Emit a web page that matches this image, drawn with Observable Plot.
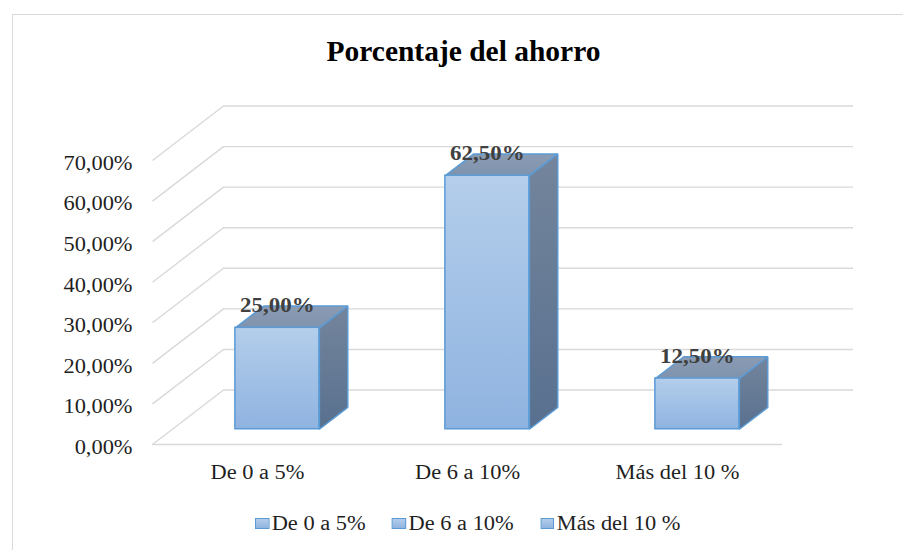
<!DOCTYPE html>
<html><head><meta charset="utf-8">
<script src="https://cdn.jsdelivr.net/npm/d3@7"></script>
<script src="https://cdn.jsdelivr.net/npm/@observablehq/plot@0.6"></script>
<style>
html,body{margin:0;padding:0;background:#fff;}
#wrap{position:relative;width:903px;height:550px;overflow:hidden;font-family:"Liberation Serif","Times New Roman",serif;}
#border{position:absolute;left:12px;top:14px;width:1000px;height:1000px;border-left:1.5px solid #d9d9d9;border-top:1.5px solid #d9d9d9;}
#chart{position:absolute;left:0;top:0;}
#legend{position:absolute;left:255px;top:511px;display:flex;align-items:center;font-size:20px;color:#1f1f1f;line-height:24px;transform:scaleX(1.12);transform-origin:0 50%;white-space:nowrap;}
.item{display:flex;align-items:center;margin-right:23.5px;}
.sw{width:12.5px;height:11px;background:linear-gradient(#b3cdea,#90b4e0);border:1px solid #5b9bd5;margin-right:2.4px;box-sizing:border-box;}
</style>
</head><body><div id="wrap"><div id="border"></div><div id="chart"></div><div id="legend"></div></div>
<script>
const title = "Porcentaje del ahorro";
const categories = ["De 0 a 5%", "De 6 a 10%", "Más del 10 %"];
const values = [0.25, 0.625, 0.125];
const valueLabels = ["25,00%", "62,50%", "12,50%"];
const yTicks = [0, 0.1, 0.2, 0.3, 0.4, 0.5, 0.6, 0.7];
const yTickLabels = ["0,00%", "10,00%", "20,00%", "30,00%", "40,00%", "50,00%", "60,00%", "70,00%"];

// oblique 3D geometry (in scale units)
const DEPTH_X = 0.338, DEPTH_Y = 0.1343;
const HALF = 0.2, FRONT = 0.28, BACK = 0.68;
const P = (x, y, d) => ({x: x + d * DEPTH_X, y: y + d * DEPTH_Y});

const bars = values.map((v, i) => ({i, v, label: valueLabels[i]}));
const fronts = bars.map(b => ({
  x1: b.i - HALF + FRONT * DEPTH_X, x2: b.i + HALF + FRONT * DEPTH_X,
  y1: FRONT * DEPTH_Y, y2: b.v + FRONT * DEPTH_Y
}));
const tops = bars.flatMap(b => [
  P(b.i - HALF, b.v, FRONT), P(b.i + HALF, b.v, FRONT), P(b.i + HALF, b.v, BACK),
  P(b.i - HALF, b.v, BACK), P(b.i - HALF, b.v, FRONT)
].map(p => ({...p, bar: b.i})));
const sides = bars.flatMap(b => [
  P(b.i + HALF, b.v, FRONT), P(b.i + HALF, b.v, BACK), P(b.i + HALF, 0, BACK),
  P(b.i + HALF, 0, FRONT), P(b.i + HALF, b.v, FRONT)
].map(p => ({...p, bar: b.i})));
const labels = bars.map(b => ({...P(b.i, b.v, FRONT), label: b.label}));
const diagonals = yTicks.map(t => ({x1: -0.5, y1: t, x2: -0.5 + DEPTH_X, y2: t + DEPTH_Y}));

const grid = "#d9d9d9";
const svg = Plot.plot({
  width: 903, height: 550,
  marginLeft: 152, marginRight: 121, marginTop: 160, marginBottom: 106,
  x: {domain: [-0.5, 2.5]},
  y: {domain: [0, 0.7]},
  style: {fontFamily: '"Liberation Serif","Times New Roman",serif', color: "#1f1f1f", background: "transparent", overflow: "visible"},
  marks: [
    Plot.ruleY(yTicks, {y: d => d + DEPTH_Y, x1: -0.5 + DEPTH_X, x2: 2.5 + DEPTH_X, stroke: grid, strokeWidth: 1.4}),
    Plot.link(diagonals, {x1: "x1", y1: "y1", x2: "x2", y2: "y2", stroke: grid, strokeWidth: 1.4}),
    Plot.ruleY([0], {x1: -0.5, x2: 2.5, stroke: grid, strokeWidth: 1.4}),
    Plot.line(sides, {x: "x", y: "y", z: "bar", fill: "url(#gSide)", stroke: "#5b9bd5", strokeWidth: 1.5, strokeLinejoin: "miter"}),
    Plot.line(tops, {x: "x", y: "y", z: "bar", fill: "url(#gTop)", stroke: "#5b9bd5", strokeWidth: 1.5, strokeLinejoin: "miter"}),
    Plot.rect(fronts, {x1: "x1", x2: "x2", y1: "y1", y2: "y2", fill: "url(#gFront)", stroke: "#5b9bd5", strokeWidth: 1.5}),
    Plot.text(labels, {x: "x", y: "y", text: "label", dy: -16, lineAnchor: "bottom", fontSize: 20.5, fontWeight: "bold", fill: "#404040"}),
    Plot.axisY({ticks: yTicks, tickFormat: d => yTickLabels[yTicks.indexOf(d)], tickSize: 0, tickPadding: 20, fontSize: 20, dy: 3, label: null}),
    Plot.axisX({ticks: [0, 1, 2], tickFormat: d => categories[d], tickSize: 0, tickPadding: 20, fontSize: 20, label: null}),
    Plot.text([title], {frameAnchor: "top", dy: -100, dx: -4, lineAnchor: "bottom", fontSize: 29, fontWeight: "bold", fill: "#000"})
  ]
});

const defs = d3.select(svg).insert("defs", ":first-child");
function grad(id, c1, c2) {
  const g = defs.append("linearGradient").attr("id", id).attr("x1", 0).attr("y1", 0).attr("x2", 0).attr("y2", 1);
  g.append("stop").attr("offset", "0%").attr("stop-color", c1);
  g.append("stop").attr("offset", "100%").attr("stop-color", c2);
}
grad("gFront", "#b4ceeb", "#8fb3e0");
grad("gSide", "#74859c", "#58708f");
grad("gTop", "#8a9cb4", "#8093ad");
document.getElementById("chart").appendChild(svg);

// the reference's type is slightly stretched horizontally
d3.select(svg).selectAll("text").each(function() {
  const w = this.getComputedTextLength();
  if (!w) return;
  const target = this.textContent === title ? 274 : w * (this.getAttribute("font-weight") === "bold" ? 1.1 : 1.12);
  this.setAttribute("textLength", target);
  this.setAttribute("lengthAdjust", "spacingAndGlyphs");
});

const legend = d3.select("#legend");
categories.forEach(c => {
  const it = legend.append("div").attr("class", "item");
  it.append("div").attr("class", "sw");
  it.append("span").text(c);
});
</script>
</body></html>
